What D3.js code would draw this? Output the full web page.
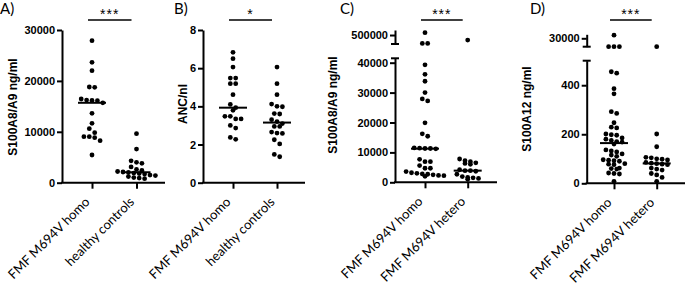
<!DOCTYPE html>
<html>
<head>
<meta charset="utf-8">
<script src="https://cdn.jsdelivr.net/npm/d3@7"></script>
<style>
  body { margin: 0; background: #fff; }
  .tick text { font-family: "Liberation Sans", Arial, sans-serif; font-weight: bold; font-size: 11px; fill: #000; }
</style>
</head>
<body>
<div id="chart"></div>
<script>
// categories
var catsHC = ["FMF M694V homo", "healthy controls"],
    catsHH = ["FMF M694V homo", "FMF M694V hetero"];

// A) S100A8/A9 ng/ml
var aHomo = [27900, 23640, 22000, 18800, 18730, 16440, 16240, 16170, 16110, 15700, 13620, 11660, 10610, 9820, 9040, 8840, 9040, 8250, 5440];
var aCtrl = [9630, 6610, 4300, 4000, 3800, 3100, 2600, 2400, 2200, 2100, 2000, 1900, 1800, 1700, 1500, 1400, 1200, 1000, 900, 800];
var ticksA = [0, 10000, 20000, 30000];

// B) ANC/nl
var bHomo = [6.83, 6.50, 6.06, 5.48, 5.48, 5.19, 5.19, 4.61, 4.10, 3.93, 3.79, 3.48, 3.48, 3.34, 3.34, 3.00, 2.86, 2.37, 2.27];
var bCtrl = [6.06, 5.19, 4.61, 4.12, 4.00, 3.98, 3.62, 3.60, 3.30, 3.20, 3.10, 2.95, 2.95, 2.65, 2.60, 2.58, 2.25, 2.03, 1.48, 1.36];
var ticksB = [0, 2, 4, 6, 8];

// C) S100A8/A9 ng/ml, broken axis
var cHomo = [513000, 453000, 453000, 39300, 36100, 33800, 30000, 27900, 27200, 19900, 16200, 15400, 11500, 11400, 11300, 11300, 11200,
             7700, 6900, 6900, 5600, 4700, 4700, 3600, 3200, 3000, 2800, 2700, 2500, 2300, 2200, 2000];
var cHet = [472000, 7800, 7200, 6900, 6500, 6300, 6000, 4200, 3900, 3900, 3700, 2700, 1900, 1600, 1500, 1300, 1000];
var ticksCLow = [0, 10000, 20000, 30000, 40000],
    ticksCHigh = [500000];

// D) S100A12 ng/ml, broken axis
var dHomo = [41000, 550, 550, 550, 455, 449, 386, 365, 292, 285, 247, 229, 226, 201, 198, 196, 185, 180, 175, 170, 168, 160,
             136, 132, 128, 120, 115, 110, 96, 94, 92, 90, 80, 78, 76, 62, 60, 58, 42, 40, 38, 8];
var dHet = [550, 201, 149, 106, 104, 100, 98, 95, 85, 82, 80, 78, 76, 62, 58, 54, 40, 34, 24, 8];
var ticksDLow = [0, 200, 400],
    ticksDHigh = [30000];

var svg = d3.select("#chart").append("svg")
    .attr("width", 685)
    .attr("height", 287);

var panels = [
  {letter: "A)", lx: 0, ax: 62, xEnd: 165, off: [30, 74.5], cats: catsHC, groups: [aHomo, aCtrl], sig: "***",
   title: "S100A8/A9 ng/ml", tx: 13, ty: 107,
   segs: [{domain: [0, 30000], range: [182.7, 30], ticks: ticksA}]},
  {letter: "B)", lx: 174, ax: 203, xEnd: 305, off: [30, 74], cats: catsHC, groups: [bHomo, bCtrl], sig: "*",
   title: "ANC/nl", tx: 183, ty: 104,
   segs: [{domain: [0, 8], range: [182.7, 30], ticks: ticksB}]},
  {letter: "C)", lx: 340, ax: 395, xEnd: 497, off: [30, 72.7], cats: catsHH, groups: [cHomo, cHet], sig: "***",
   title: "S100A8/A9 ng/ml", tx: 333, ty: 105,
   segs: [{domain: [0, 41470], range: [182.3, 58.3], ticks: ticksCLow, capTop: true},
          {domain: [450000, 528000], range: [44, 30], ticks: ticksCHigh, capBottom: true}]},
  {letter: "D)", lx: 530, ax: 586.7, xEnd: 685, off: [27.3, 70], cats: catsHH, groups: [dHomo, dHet], sig: "***",
   title: "S100A12 ng/ml", tx: 527, ty: 109,
   segs: [{domain: [0, 500], range: [183.3, 60.7], ticks: ticksDLow, capTop: true},
          {domain: [500, 44000], range: [46.7, 34.3], ticks: ticksDHigh, capBottom: true}]}
];

panels.forEach(drawPanel);

function drawPanel(p) {
  var g = svg.append("g");
  var y0 = p.segs[0].range[0];

  var x = d3.scalePoint().domain(p.cats).range([p.ax + p.off[0], p.ax + p.off[1]]);

  var scales = p.segs.map(function(s) { return d3.scaleLinear().domain(s.domain).range(s.range); });
  function y(v) {
    var lowMax = p.segs[0].domain[1];
    return (v <= lowMax || scales.length == 1) ? scales[0](v) : scales[1](v);
  }

  // y axis segments
  p.segs.forEach(function(s, i) {
    var ax = g.append("g")
        .attr("transform", "translate(" + p.ax + ",0)")
        .call(d3.axisLeft(scales[i]).tickValues(s.ticks).tickSize(5).tickSizeOuter(0).tickPadding(2).tickFormat(d3.format("d")));
    ax.selectAll("path, line").attr("stroke", "#000").attr("stroke-width", 2);
    if (s.capTop) capAt(s.range[1]);
    if (s.capBottom) capAt(s.range[0]);
  });
  function capAt(yy) {
    g.append("line")
        .attr("x1", p.ax - 4).attr("x2", p.ax + 4)
        .attr("y1", yy).attr("y2", yy)
        .attr("stroke", "#000").attr("stroke-width", 2);
  }

  // x axis
  g.append("line")
      .attr("x1", p.ax - 1).attr("x2", p.xEnd)
      .attr("y1", y0).attr("y2", y0)
      .attr("stroke", "#000").attr("stroke-width", 2);
  var xa = g.append("g")
      .attr("transform", "translate(0," + y0 + ")")
      .call(d3.axisBottom(x).tickSize(6).tickSizeOuter(0));
  xa.select(".domain").remove();
  xa.selectAll("line").attr("stroke", "#000").attr("stroke-width", 2);
  xa.selectAll("text")
      .attr("x", null).attr("y", null).attr("dy", null)
      .attr("text-anchor", "end")
      .attr("transform", "translate(-2,20) rotate(-45)")
      .style("font-family", "Lato, 'Open Sans', sans-serif")
      .style("font-weight", "normal")
      .style("font-size", "13px");

  // dots, spread in rows like a scatter dot plot
  p.groups.forEach(function(vals, gi) {
    var cx = x(p.cats[gi]);
    var pts = vals.map(function(v) { return {v: v, py: y(v)}; })
        .sort(function(a, b) { return a.py - b.py; });
    var rows = [];
    pts.forEach(function(d) {
      var r = rows[rows.length - 1];
      if (r && d.py - r[0].py < 4.4) r.push(d);
      else rows.push([d]);
    });
    var step = 5.4;
    rows.forEach(function(r) {
      r.forEach(function(d, i) { d.px = cx + (i - (r.length - 1) / 2) * step; });
    });

    g.selectAll(".dot" + gi)
      .data(pts)
      .enter().append("circle")
        .attr("cx", function(d) { return d.px; })
        .attr("cy", function(d) { return d.py; })
        .attr("r", 2.4)
        .attr("fill", "#000");

    var med = d3.median(vals);
    g.append("line")
        .attr("x1", cx - 14).attr("x2", cx + 14)
        .attr("y1", y(med)).attr("y2", y(med))
        .attr("stroke", "#000").attr("stroke-width", 2);
  });

  // significance bar
  var s1 = x(p.cats[0]) - 4, s2 = x(p.cats[1]) - 5;
  g.append("line")
      .attr("x1", s1).attr("x2", s2)
      .attr("y1", 20).attr("y2", 20)
      .attr("stroke", "#000").attr("stroke-width", 1.5);
  g.append("text")
      .attr("x", (s1 + s2) / 2)
      .attr("y", 19)
      .attr("text-anchor", "middle")
      .style("font-family", "'Liberation Sans', Arial, sans-serif")
      .style("font-size", "14px")
      .style("letter-spacing", "1px")
      .text(p.sig);

  // y title
  g.append("text")
      .attr("transform", "translate(" + p.tx + "," + p.ty + ") rotate(-90)")
      .attr("text-anchor", "middle")
      .attr("dy", "0.35em")
      .style("font-family", "'Liberation Sans', Arial, sans-serif")
      .style("font-weight", "bold")
      .style("font-size", "12px")
      .text(p.title);

  // panel letter
  g.append("text")
      .attr("x", p.lx)
      .attr("y", 14)
      .style("font-family", "Lato, 'Open Sans', sans-serif")
      .style("font-size", "15px")
      .text(p.letter);
}
</script>
</body>
</html>
